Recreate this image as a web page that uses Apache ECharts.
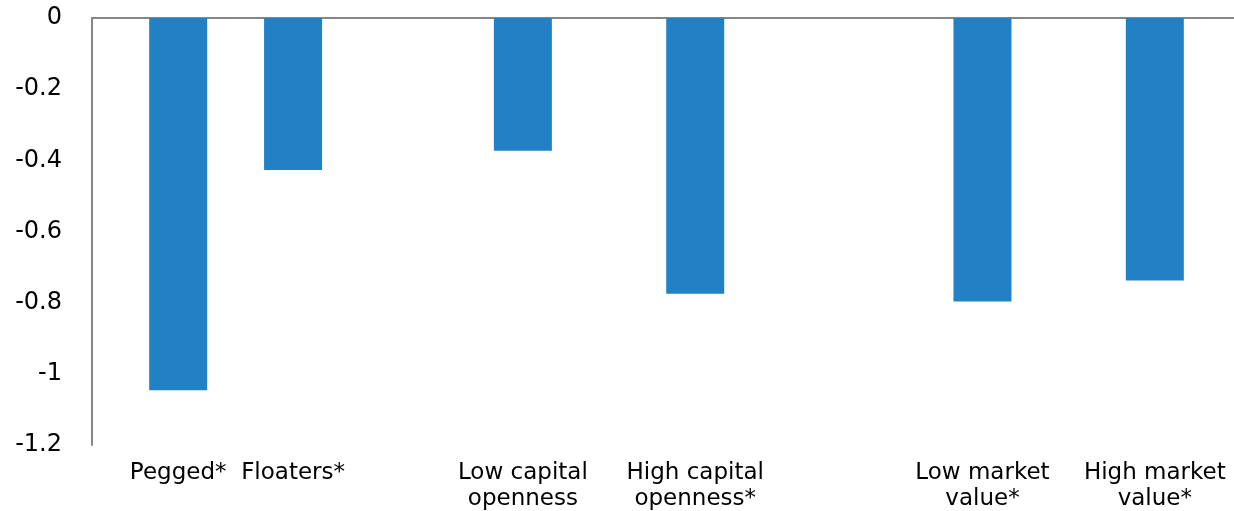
<!DOCTYPE html>
<html>
<head>
<meta charset="utf-8">
<script src="https://cdn.jsdelivr.net/npm/echarts@6/dist/echarts.min.js"></script>
<style>
html,body{margin:0;padding:0;background:#fff;overflow:hidden;}
#chart{width:1241px;height:511px;}
</style>
</head>
<body>
<div id="chart"></div>
<script>
var categories = ['', 'Pegged*', '', 'Floaters*', '', '', '', 'Low capital\nopenness', '', '', 'High capital\nopenness*', '', '', '', '', 'Low market\nvalue*', '', '', 'High market\nvalue*', ''];
var values = [null, -1.046, null, -0.427, null, null, null, -0.373, null, null, -0.775, null, null, null, null, -0.797, null, null, -0.738, null];
var yMin = -1.2, yMax = 0, yStep = 0.2;

var chart = echarts.init(document.getElementById('chart'), null, {renderer: 'canvas'});
var font = 'DejaVu Sans';
chart.setOption({
  animation: false,
  backgroundColor: '#ffffff',
  grid: {left: 92, right: 0, top: 18, bottom: 66, containLabel: false, outerBoundsMode: 'none'},
  xAxis: [{
    type: 'category', data: categories, position: 'top',
    axisLine: {show: true, onZero: false, lineStyle: {color: '#868686', width: 2}},
    axisTick: {show: false}, axisLabel: {show: false}, splitLine: {show: false}
  }, {
    type: 'category', data: categories, position: 'bottom',
    axisLine: {show: false, onZero: false}, axisTick: {show: false},
    axisLabel: {show: true, interval: 0, margin: 15, color: '#000', fontFamily: font, fontSize: 23, lineHeight: 26, align: 'center'},
    splitLine: {show: false}
  }],
  yAxis: {
    type: 'value', min: yMin, max: yMax, interval: yStep,
    axisLine: {show: true, onZero: false, lineStyle: {color: '#868686', width: 2}},
    axisTick: {show: false}, splitLine: {show: false},
    axisLabel: {color: '#000', fontFamily: font, fontSize: 24, margin: 30, padding: [9, 0, 0, 0]}
  },
  series: [{
    type: 'bar', data: values, xAxisIndex: 0, barWidth: 58,
    itemStyle: {color: '#2281c4'}
  }]
});
</script>
</body>
</html>
